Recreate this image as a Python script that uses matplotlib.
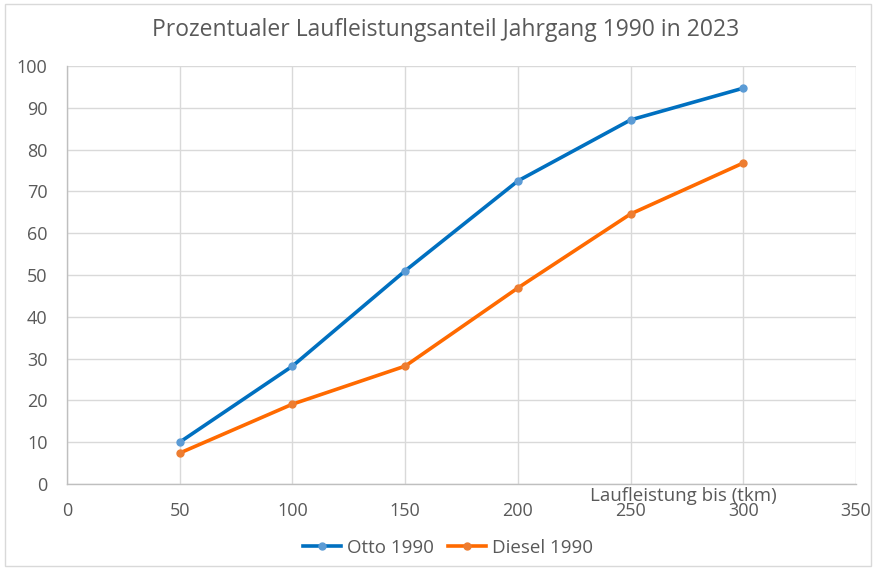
import matplotlib
matplotlib.use("Agg")
import matplotlib.pyplot as plt
from matplotlib.patches import Rectangle

laufleistung = [50, 100, 150, 200, 250, 300]
otto_1990 = [10.0, 28.2, 51.0, 72.5, 87.1, 94.7]
diesel_1990 = [7.4, 19.1, 28.2, 46.9, 64.6, 76.8]
x_ticks = [0, 50, 100, 150, 200, 250, 300, 350]
y_ticks = [0, 10, 20, 30, 40, 50, 60, 70, 80, 90, 100]

plt.rcParams['font.family'] = ['Open Sans', 'DejaVu Sans']
txt = '#595959'
grid = '#D9D9D9'

fig = plt.figure(figsize=(8.74, 5.68), dpi=100)
fig.patches.append(Rectangle((5/874, 1 - 566/568), 866/874, 562/568, transform=fig.transFigure,
                             fill=False, edgecolor='#D9D9D9', linewidth=1))
ax = fig.add_axes([67/874, 1 - 484/568, (856 - 67)/874, (484 - 66)/568])

ax.plot(laufleistung, otto_1990, color='#0070C0', linewidth=2.6, marker='o', markersize=5,
        markerfacecolor='#5B9BD5', markeredgecolor='#5B9BD5', label='Otto 1990', zorder=3)
ax.plot(laufleistung, diesel_1990, color='#FF6A00', linewidth=2.6, marker='o', markersize=5,
        markerfacecolor='#ED7D31', markeredgecolor='#ED7D31', label='Diesel 1990', zorder=3)

ax.set_xlim(0, 350)
ax.set_ylim(0, 100)
ax.set_xticks(x_ticks)
ax.set_yticks(y_ticks)
ax.grid(True, color=grid, linewidth=1)
ax.set_axisbelow(True)
for s in ['top', 'right']:
    ax.spines[s].set_visible(False)
for s in ['left', 'bottom']:
    ax.spines[s].set_color('#BFBFBF')
    ax.spines[s].set_linewidth(1)
ax.tick_params(axis='both', length=0, colors=txt, labelsize=13)
ax.tick_params(axis='x', pad=13)
ax.tick_params(axis='y', pad=14)

ax.text(0.781, -0.006, 'Laufleistung bis (tkm)', transform=ax.transAxes, ha='center', va='top',
        fontsize=13.5, color=txt)

fig.text(446/874, 1 - 30/568, 'Prozentualer Laufleistungsanteil Jahrgang 1990 in 2023',
         ha='center', va='center', fontsize=16.5, color=txt)

leg = fig.legend(loc='center', bbox_to_anchor=(448/874, 1 - 548/568), ncol=2, frameon=False,
                 fontsize=13.5, labelcolor=txt, handlelength=2.0, columnspacing=0.8, handletextpad=0.3)

fig.savefig('out.png', dpi=100)
